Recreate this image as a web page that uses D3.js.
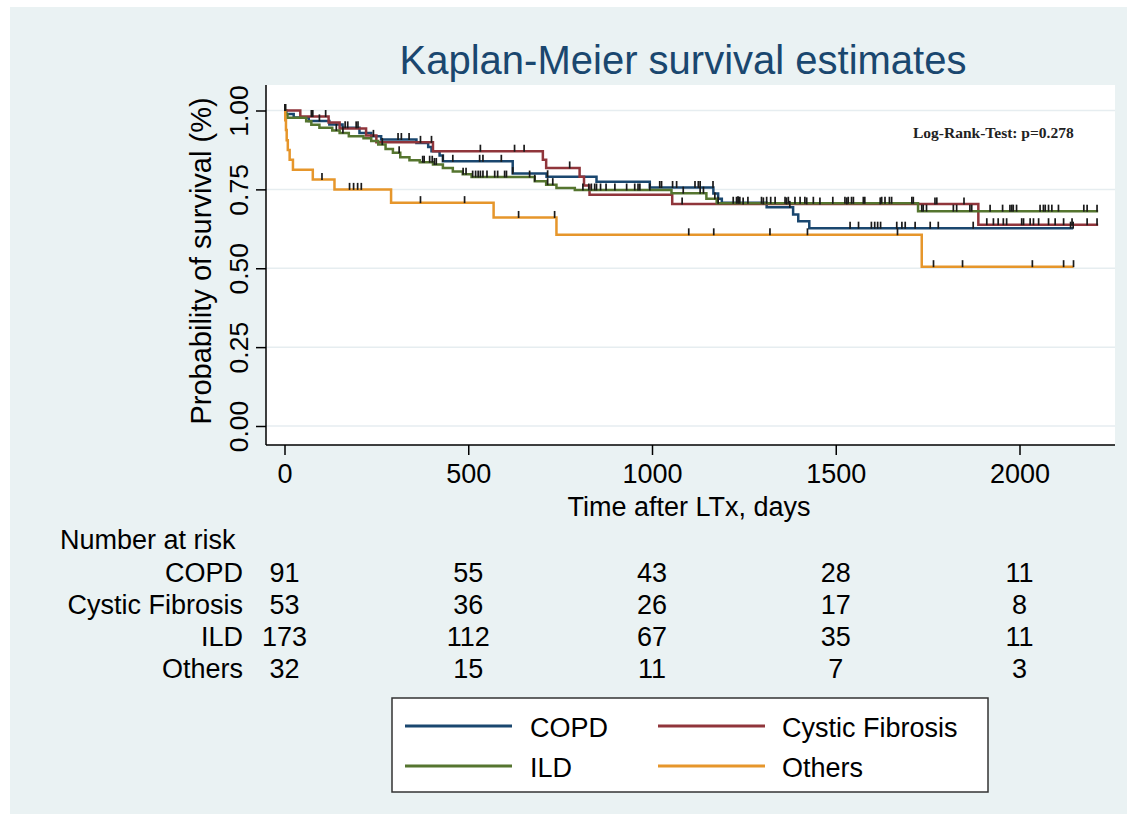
<!DOCTYPE html>
<html>
<head>
<meta charset="utf-8">
<script src="https://cdn.jsdelivr.net/npm/d3@7"></script>
<style>
  html, body { margin: 0; padding: 0; background: #ffffff; }
  svg { display: block; }
</style>
</head>
<body>
<svg id="chart" width="1136" height="821"></svg>
<script>
// ---------------- DATA ----------------
const groups = ["COPD", "Cystic Fibrosis", "ILD", "Others"];
const groupColors = ["#1a476f", "#90353b", "#55752f", "#e6962b"];

// Kaplan-Meier step points: time (days) where the estimate changes, and new estimate
const copdTimes = [0, 5, 25, 66, 122, 158, 204, 236, 263, 359, 391, 400, 422, 431, 621, 713, 849, 994, 1167, 1180, 1190, 1312, 1384, 1398, 1428];
const copdSurv  = [1.0, 0.989, 0.978, 0.967, 0.956, 0.945, 0.929, 0.918, 0.908, 0.897, 0.884, 0.871, 0.857, 0.839, 0.800, 0.790, 0.774, 0.756, 0.737, 0.720, 0.708, 0.693, 0.670, 0.649, 0.627];
const copdEnd   = 2146;
const copdCensor = [2, 95, 165, 172, 195, 200, 242, 309, 318, 339, 431, 458, 531, 540, 590, 621, 716, 1021, 1026, 1056, 1067, 1117, 1126, 1131, 1166, 1234, 1375, 1539, 1562, 1597, 1606, 1614, 1622, 1666, 1680, 1689, 1716, 1757, 1779, 1874, 2139, 2146];

const cfTimes = [0, 43, 120, 150, 222, 250, 404, 703, 712, 803, 815, 830, 1055, 1888];
const cfSurv  = [1.0, 0.981, 0.962, 0.943, 0.921, 0.899, 0.871, 0.844, 0.818, 0.790, 0.762, 0.733, 0.704, 0.638];
const cfEnd   = 2214;
const cfCensor = [3, 73, 77, 112, 370, 400, 533, 626, 652, 776, 1082, 1248, 1303, 1366, 1421, 1457, 1530, 1621, 1770, 1775, 1849, 1911, 1929, 1942, 1956, 1965, 2006, 2011, 2029, 2038, 2052, 2079, 2097, 2120, 2143, 2184, 2211];

const ildTimes = [0, 3, 8, 59, 73, 95, 130, 150, 175, 215, 236, 255, 275, 295, 315, 340, 368, 404, 431, 458, 485, 509, 681, 712, 740, 790, 1053, 1148, 1176, 1724];
const ildSurv  = [1.0, 0.988, 0.977, 0.966, 0.955, 0.945, 0.937, 0.929, 0.918, 0.912, 0.903, 0.892, 0.878, 0.866, 0.852, 0.842, 0.836, 0.829, 0.818, 0.807, 0.798, 0.789, 0.776, 0.765, 0.754, 0.748, 0.738, 0.720, 0.706, 0.681];
const ildEnd   = 2214;
const ildCensor = [1, 141, 159, 266, 312, 376, 380, 395, 402, 408, 413, 486, 494, 512, 520, 527, 533, 540, 551, 572, 580, 599, 604, 667, 681, 716, 730, 812, 828, 835, 844, 849, 860, 875, 899, 931, 953, 962, 967, 994, 1085, 1131, 1140, 1171, 1180, 1221, 1230, 1235, 1239, 1261, 1298, 1312, 1323, 1335, 1362, 1371, 1389, 1403, 1416, 1439, 1492, 1525, 1534, 1543, 1548, 1575, 1579, 1625, 1634, 1646, 1652, 1707, 1711, 1734, 1738, 1747, 1820, 1829, 1865, 1870, 1920, 1954, 1974, 1979, 1983, 1992, 2056, 2065, 2070, 2079, 2088, 2106, 2175, 2184, 2211];

const othTimes = [0, 2, 4, 6, 9, 14, 23, 77, 136, 290, 569, 740, 1734];
const othSurv  = [1.0, 0.969, 0.938, 0.906, 0.875, 0.844, 0.8125, 0.781, 0.750, 0.708, 0.661, 0.606, 0.505];
const othEnd   = 2147;
const othCensor = [102, 177, 188, 199, 209, 370, 490, 637, 735, 1100, 1168, 1321, 1423, 1668, 1766, 1845, 2035, 2120, 2147];

// Number at risk table
const riskTimes = [0, 500, 1000, 1500, 2000];
const riskCOPD = [91, 55, 43, 28, 11];
const riskCF   = [53, 36, 26, 17, 8];
const riskILD  = [173, 112, 67, 35, 11];
const riskOth  = [32, 15, 11, 7, 3];

const xTicks = [0, 500, 1000, 1500, 2000];
const yTicks = [0, 0.25, 0.5, 0.75, 1.0];

const titleText = "Kaplan-Meier survival estimates";
const xTitle = "Time after LTx, days";
const yTitle = "Probability of survival (%)";
const annotText = "Log-Rank-Test: p=0.278";

// ---------------- DRAW ----------------
const SANS = "'Liberation Sans', Arial, Helvetica, sans-serif";
const SERIF = "'Liberation Serif', 'Times New Roman', serif";
const svg = d3.select("#chart").style("font-family", SANS);

// outer background
svg.append("rect").attr("x", 10).attr("y", 7).attr("width", 1117).attr("height", 807).attr("fill", "#eaf2f3");

const plot = { left: 266, right: 1115, top: 85, bottom: 445 };
svg.append("rect").attr("x", plot.left).attr("y", plot.top)
  .attr("width", plot.right - plot.left).attr("height", plot.bottom - plot.top)
  .attr("fill", "#ffffff");

const x = d3.scaleLinear().domain([0, 2000]).range([284.5, 1019.5]);
const y = d3.scaleLinear().domain([0, 1]).range([426, 110.5]);

// gridlines
svg.append("g").selectAll("line").data(yTicks).join("line")
  .attr("x1", plot.left).attr("x2", plot.right)
  .attr("y1", d => y(d)).attr("y2", d => y(d))
  .attr("stroke", "#e6edf0").attr("stroke-width", 1.5);

// title
svg.append("text").attr("x", 683).attr("y", 74).attr("text-anchor", "middle")
  .style("font-family", SANS).attr("font-size", 40).attr("fill", "#1a476f").text(titleText);

// Y axis
const yAxis = svg.append("g").attr("transform", `translate(${plot.left},0)`)
  .call(d3.axisLeft(y).tickValues(yTicks).tickSize(10).tickFormat(d3.format(".2f")));
yAxis.attr("font-family", null).attr("font-size", null);
yAxis.select(".domain").attr("d", `M0,${plot.top}V${plot.bottom}`).attr("stroke", "#000").attr("stroke-width", 1.5);
yAxis.selectAll(".tick line").attr("stroke", "#000").attr("stroke-width", 1.5);
yAxis.selectAll(".tick text")
  .attr("x", null).attr("dy", null)
  .attr("transform", "translate(-18,0) rotate(-90)")
  .attr("text-anchor", "middle")
  .style("font-family", SANS).attr("font-size", 26.5).attr("fill", "#000");

// X axis
const xAxis = svg.append("g").attr("transform", `translate(0,${plot.bottom})`)
  .call(d3.axisBottom(x).tickValues(xTicks).tickSize(10).tickFormat(d3.format("d")));
xAxis.attr("font-family", null).attr("font-size", null);
xAxis.select(".domain").attr("d", `M${plot.left},0H${plot.right}`).attr("stroke", "#000").attr("stroke-width", 1.5);
xAxis.selectAll(".tick line").attr("stroke", "#000").attr("stroke-width", 1.5);
xAxis.selectAll(".tick text").attr("y", 38).attr("dy", null)
  .style("font-family", SANS).attr("font-size", 27).attr("fill", "#000");

// axis titles
svg.append("text").attr("x", 689).attr("y", 516).attr("text-anchor", "middle")
  .style("font-family", SANS).attr("font-size", 27).attr("fill", "#000").text(xTitle);
svg.append("text").attr("transform", "translate(211,261) rotate(-90)")
  .attr("text-anchor", "middle").style("font-family", SANS).attr("font-size", 29).attr("fill", "#000").text(yTitle);

// annotation
svg.append("text").attr("x", 913).attr("y", 138)
  .style("font-family", SERIF)
  .attr("font-weight", "bold").attr("font-size", 15.5).attr("fill", "#222").text(annotText);

// curves
const series = [
  { t: copdTimes, s: copdSurv, end: copdEnd, c: copdCensor },
  { t: cfTimes, s: cfSurv, end: cfEnd, c: cfCensor },
  { t: ildTimes, s: ildSurv, end: ildEnd, c: ildCensor },
  { t: othTimes, s: othSurv, end: othEnd, c: othCensor }
];
const line = d3.line().x(d => x(d[0])).y(d => y(d[1])).curve(d3.curveStepAfter);
function survAt(sr, t) {
  let v = sr.s[0];
  for (let i = 0; i < sr.t.length; i++) if (sr.t[i] <= t) v = sr.s[i];
  return v;
}
const curveG = svg.append("g");
const tickG = svg.append("g");
series.forEach((sr, i) => {
  const pts = sr.t.map((t, k) => [t, sr.s[k]]);
  pts.push([sr.end, sr.s[sr.s.length - 1]]);
  curveG.append("path").datum(pts).attr("d", line)
    .attr("fill", "none").attr("stroke", groupColors[i]).attr("stroke-width", 2.5);
});
series.forEach((sr) => {
  tickG.selectAll(null).data(sr.c).join("line")
    .attr("x1", d => x(d)).attr("x2", d => x(d))
    .attr("y1", d => y(survAt(sr, d)) + 0.5).attr("y2", d => y(survAt(sr, d)) - 6.5)
    .attr("stroke", "#1a1a1a").attr("stroke-width", 1.7);
});

// Number at risk table
svg.append("text").attr("x", 60).attr("y", 549).style("font-family", SANS)
  .attr("font-size", 27).attr("fill", "#000").text("Number at risk");
const riskRows = [riskCOPD, riskCF, riskILD, riskOth];
const rowY = [582, 614, 646, 678];
riskRows.forEach((row, i) => {
  svg.append("text").attr("x", 243).attr("y", rowY[i]).attr("text-anchor", "end")
    .style("font-family", SANS).attr("font-size", 27).attr("fill", "#000").text(groups[i]);
  svg.append("g").selectAll("text").data(row).join("text")
    .attr("x", (d, k) => x(riskTimes[k])).attr("y", rowY[i]).attr("text-anchor", "middle")
    .style("font-family", SANS).attr("font-size", 27).attr("fill", "#000").text(d => d);
});

// Legend
const lg = svg.append("g");
lg.append("rect").attr("x", 392).attr("y", 698).attr("width", 596).attr("height", 94)
  .attr("fill", "#ffffff").attr("stroke", "#333").attr("stroke-width", 1.5);
const legPos = [
  { lx: 405, ty: 726, tx: 530, by: 737 },
  { lx: 658, ty: 726, tx: 782, by: 737 },
  { lx: 405, ty: 766, tx: 530, by: 777 },
  { lx: 658, ty: 766, tx: 782, by: 777 }
];
groups.forEach((g, i) => {
  const p = legPos[i];
  lg.append("line").attr("x1", p.lx).attr("x2", p.lx + 107).attr("y1", p.ty).attr("y2", p.ty)
    .attr("stroke", groupColors[i]).attr("stroke-width", 3);
  lg.append("text").attr("x", p.tx).attr("y", p.by).style("font-family", SANS)
    .attr("font-size", 27).attr("fill", "#000").text(g);
});
</script>
</body>
</html>
